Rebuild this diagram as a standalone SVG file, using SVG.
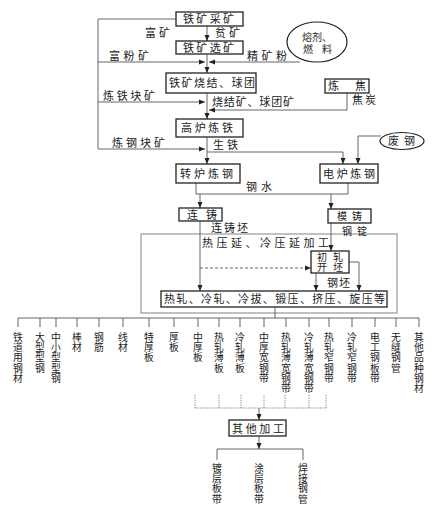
<svg xmlns="http://www.w3.org/2000/svg" width="444" height="511" viewBox="0 0 444 511">
<style>
text{font-family:"Noto Sans CJK SC","Noto Sans CJK JP",sans-serif;font-size:11px;fill:#222}
.box{fill:#fff;stroke:#222;stroke-width:1.3}
.ell{fill:#fff;stroke:#222;stroke-width:1.2}
.ln{fill:none;stroke:#555;stroke-width:0.9}
.dash{fill:none;stroke:#555;stroke-width:0.9;stroke-dasharray:3 2}
.dot{fill:none;stroke:#666;stroke-width:0.8;stroke-dasharray:1.2 1.2}
.frame{fill:none;stroke:#777;stroke-width:0.9}
.v{font-size:9.8px;text-anchor:middle}
.s{font-size:10px}
</style>
<defs>
<marker id="ar" viewBox="0 0 6 6" refX="6" refY="3" markerWidth="6" markerHeight="6" markerUnits="userSpaceOnUse" orient="auto">
<path d="M0,0.5 L6,3 L0,5.5 z" fill="#222"/>
</marker>
</defs>
<rect width="444" height="511" fill="#fff"/>
<rect class="frame" x="141" y="234" width="256" height="79"/>
<g id="connectors">
<path class="ln" d="M176,19 H98 V149"/>
<path class="ln" d="M98,62 H205" marker-end="url(#ar)"/>
<path class="ln" d="M98,102 H205" marker-end="url(#ar)"/>
<path class="ln" d="M98,149 H205" marker-end="url(#ar)"/>
<path class="ln" d="M207,26 V41" marker-end="url(#ar)"/>
<path class="ln" d="M300,62 H209" marker-end="url(#ar)"/>
<path class="ln" d="M207,54 V73" marker-end="url(#ar)"/>
<path class="ln" d="M207,93 V119" marker-end="url(#ar)"/>
<path class="ln" d="M347,93 V110 H209" marker-end="url(#ar)"/>
<path class="ln" d="M207,137 V164" marker-end="url(#ar)"/>
<path class="ln" d="M207,152 H343 V164" marker-end="url(#ar)"/>
<path class="ln" d="M381,136 H358 V164" marker-end="url(#ar)"/>
<path class="ln" d="M196,183 V194 H348 V183"/>
<path class="ln" d="M200,194 V208" marker-end="url(#ar)"/>
<path class="ln" d="M331,194 V209" marker-end="url(#ar)"/>
<path class="ln" d="M200,221 V291" marker-end="url(#ar)"/>
<path class="dash" d="M200,268 H311" marker-end="url(#ar)"/>
<path class="ln" d="M331,223 V251" marker-end="url(#ar)"/>
<path class="ln" d="M316,273 V291" marker-end="url(#ar)"/>
<path class="ln" d="M349,262 H359 V291" marker-end="url(#ar)"/>
<path class="ln" d="M275,307 V318"/>
<path class="ln" d="M18,318 H419"/>
<path class="ln" d="M18,318 V327 M40,318 V327 M56,318 V327 M77,318 V327 M99,318 V327 M123,318 V327 M149,318 V327 M174,318 V327 M198,318 V327 M219,318 V327 M240,318 V327 M264,318 V327 M286,318 V327 M309,318 V327 M329,318 V327 M352,318 V327 M375,318 V327 M396,318 V327 M419,318 V327"/>
<path class="dot" d="M195,395 V408 M219,395 V408 M241,395 V408 M264,395 V408 M285,395 V408 M309,395 V408 M326,395 V408 M195,408 H326"/>
<path class="ln" d="M259,408 V420" marker-end="url(#ar)"/>
<path class="ln" d="M259,436 V449" marker-end="url(#ar)"/>
<path class="ln" d="M217,460 V449 H303 V460"/>
</g>
<g id="labels">
<text x="145" y="37" textLength="25" lengthAdjust="spacing">富矿</text>
<text x="215" y="37" textLength="25" lengthAdjust="spacing">贫矿</text>
<text x="109" y="60" textLength="40" lengthAdjust="spacing">富粉矿</text>
<text x="247" y="60" textLength="40" lengthAdjust="spacing">精矿粉</text>
<text x="352" y="104" textLength="24" lengthAdjust="spacing">焦炭</text>
<text x="103" y="100" textLength="52" lengthAdjust="spacing">炼铁块矿</text>
<text x="212" y="106" textLength="82" lengthAdjust="spacing">烧结矿、球团矿</text>
<text x="112" y="147" textLength="53" lengthAdjust="spacing">炼钢块矿</text>
<text x="213" y="149" textLength="25" lengthAdjust="spacing">生铁</text>
<text x="246" y="191" textLength="26" lengthAdjust="spacing">钢水</text>
<text x="211" y="232" textLength="37" lengthAdjust="spacing">连铸坯</text>
<text class="s" x="342" y="234.5" textLength="25" lengthAdjust="spacing">钢锭</text>
<text x="202" y="247" textLength="127" lengthAdjust="spacing">热压延、冷压延加工</text>
<text x="327" y="287" textLength="23" lengthAdjust="spacing">钢坯</text>
</g>
<g id="n-caikuang"><rect class="box" x="176" y="12" width="67" height="14"/><text x="183" y="23" textLength="51" lengthAdjust="spacing">铁矿采矿</text></g>
<g id="n-xuankuang"><rect class="box" x="176" y="41" width="67" height="13"/><text x="183" y="51.5" textLength="51" lengthAdjust="spacing">铁矿选矿</text></g>
<g id="n-rongji"><ellipse class="ell" cx="317" cy="42" rx="30" ry="20"/><text class="s" x="302" y="41">熔剂、</text><text class="s" x="303" y="53" textLength="29" lengthAdjust="spacing">燃料</text></g>
<g id="n-shaojie"><rect class="box" x="166" y="73" width="90" height="20"/><text x="169" y="87" textLength="86" lengthAdjust="spacing">铁矿烧结、球团</text></g>
<g id="n-lianjiao"><rect class="box" x="325" y="79" width="44" height="14"/><text x="328" y="90" textLength="38" lengthAdjust="spacing">炼焦</text></g>
<g id="n-gaolu"><rect class="box" x="176" y="119" width="67" height="18"/><text x="181" y="132" textLength="52" lengthAdjust="spacing">高炉炼铁</text></g>
<g id="n-feigang"><ellipse class="ell" cx="402" cy="141" rx="22" ry="8.5"/><text x="388" y="145" textLength="27" lengthAdjust="spacing">废钢</text></g>
<g id="n-zhuanlu"><rect class="box" x="176" y="164" width="64" height="19"/><text x="180" y="178" textLength="53" lengthAdjust="spacing">转炉炼钢</text></g>
<g id="n-dianlu"><rect class="box" x="320" y="164" width="58" height="19"/><text x="323" y="178" textLength="52" lengthAdjust="spacing">电炉炼钢</text></g>
<g id="n-lianzhu"><rect class="box" x="179" y="208" width="43" height="13"/><text x="187" y="218.5" textLength="30" lengthAdjust="spacing">连铸</text></g>
<g id="n-mozhu"><rect class="box" x="328" y="209" width="43" height="14"/><text class="s" x="337" y="219.5" textLength="25" lengthAdjust="spacing">模铸</text></g>
<g id="n-chuzha"><rect class="box" x="311" y="251" width="38" height="22"/><text class="s" x="317" y="260.5" textLength="26" lengthAdjust="spacing">初轧</text><text class="s" x="317" y="271" textLength="26" lengthAdjust="spacing">开坯</text></g>
<g id="n-process"><rect class="box" x="161" y="291" width="226" height="16"/><text x="164" y="303" textLength="221" lengthAdjust="spacing">热轧、冷轧、冷拔、锻压、挤压、旋压等</text></g>
<g id="n-qita"><rect class="box" x="229" y="420" width="57" height="16"/><text x="232" y="432.5" textLength="52" lengthAdjust="spacing">其他加工</text></g>
<g id="products">
<text class="v" x="18" y="341"><tspan x="18">铁</tspan><tspan x="18" dy="10.2">道</tspan><tspan x="18" dy="10.2">用</tspan><tspan x="18" dy="10.2">钢</tspan><tspan x="18" dy="10.2">材</tspan></text>
<text class="v" x="40" y="341"><tspan x="40">大</tspan><tspan x="40" dy="10.2">型</tspan><tspan x="40" dy="10.2">型</tspan><tspan x="40" dy="10.2">钢</tspan></text>
<text class="v" x="56" y="341"><tspan x="56">中</tspan><tspan x="56" dy="10.2">小</tspan><tspan x="56" dy="10.2">型</tspan><tspan x="56" dy="10.2">型</tspan><tspan x="56" dy="10.2">钢</tspan></text>
<text class="v" x="77" y="341"><tspan x="77">棒</tspan><tspan x="77" dy="10.2">材</tspan></text>
<text class="v" x="99" y="341"><tspan x="99">钢</tspan><tspan x="99" dy="10.2">筋</tspan></text>
<text class="v" x="123" y="341"><tspan x="123">线</tspan><tspan x="123" dy="10.2">材</tspan></text>
<text class="v" x="149" y="341"><tspan x="149">特</tspan><tspan x="149" dy="10.2">厚</tspan><tspan x="149" dy="10.2">板</tspan></text>
<text class="v" x="174" y="341"><tspan x="174">厚</tspan><tspan x="174" dy="10.2">板</tspan></text>
<text class="v" x="198" y="341"><tspan x="198">中</tspan><tspan x="198" dy="10.2">厚</tspan><tspan x="198" dy="10.2">板</tspan></text>
<text class="v" x="219" y="341"><tspan x="219">热</tspan><tspan x="219" dy="10.2">轧</tspan><tspan x="219" dy="10.2">薄</tspan><tspan x="219" dy="10.2">板</tspan></text>
<text class="v" x="240" y="341"><tspan x="240">冷</tspan><tspan x="240" dy="10.2">轧</tspan><tspan x="240" dy="10.2">薄</tspan><tspan x="240" dy="10.2">板</tspan></text>
<text class="v" x="264" y="341"><tspan x="264">中</tspan><tspan x="264" dy="10.2">厚</tspan><tspan x="264" dy="10.2">宽</tspan><tspan x="264" dy="10.2">钢</tspan><tspan x="264" dy="10.2">带</tspan></text>
<text class="v" x="286" y="341"><tspan x="286">热</tspan><tspan x="286" dy="10.2">轧</tspan><tspan x="286" dy="10.2">薄</tspan><tspan x="286" dy="10.2">宽</tspan><tspan x="286" dy="10.2">钢</tspan><tspan x="286" dy="10.2">带</tspan></text>
<text class="v" x="309" y="341"><tspan x="309">冷</tspan><tspan x="309" dy="10.2">轧</tspan><tspan x="309" dy="10.2">薄</tspan><tspan x="309" dy="10.2">宽</tspan><tspan x="309" dy="10.2">钢</tspan><tspan x="309" dy="10.2">带</tspan></text>
<text class="v" x="329" y="341"><tspan x="329">热</tspan><tspan x="329" dy="10.2">轧</tspan><tspan x="329" dy="10.2">窄</tspan><tspan x="329" dy="10.2">钢</tspan><tspan x="329" dy="10.2">带</tspan></text>
<text class="v" x="352" y="341"><tspan x="352">冷</tspan><tspan x="352" dy="10.2">轧</tspan><tspan x="352" dy="10.2">窄</tspan><tspan x="352" dy="10.2">钢</tspan><tspan x="352" dy="10.2">带</tspan></text>
<text class="v" x="375" y="341"><tspan x="375">电</tspan><tspan x="375" dy="10.2">工</tspan><tspan x="375" dy="10.2">钢</tspan><tspan x="375" dy="10.2">板</tspan><tspan x="375" dy="10.2">带</tspan></text>
<text class="v" x="396" y="341"><tspan x="396">无</tspan><tspan x="396" dy="10.2">缝</tspan><tspan x="396" dy="10.2">钢</tspan><tspan x="396" dy="10.2">管</tspan></text>
<text class="v" x="419" y="341"><tspan x="419">其</tspan><tspan x="419" dy="10.2">他</tspan><tspan x="419" dy="10.2">品</tspan><tspan x="419" dy="10.2">种</tspan><tspan x="419" dy="10.2">钢</tspan><tspan x="419" dy="10.2">材</tspan></text>
<text class="v" x="217" y="472"><tspan x="217">镀</tspan><tspan x="217" dy="10.2">层</tspan><tspan x="217" dy="10.2">板</tspan><tspan x="217" dy="10.2">带</tspan></text>
<text class="v" x="259" y="472"><tspan x="259">涂</tspan><tspan x="259" dy="10.2">层</tspan><tspan x="259" dy="10.2">板</tspan><tspan x="259" dy="10.2">带</tspan></text>
<text class="v" x="303" y="472"><tspan x="303">焊</tspan><tspan x="303" dy="10.2">接</tspan><tspan x="303" dy="10.2">钢</tspan><tspan x="303" dy="10.2">管</tspan></text>
</g>
</svg>
